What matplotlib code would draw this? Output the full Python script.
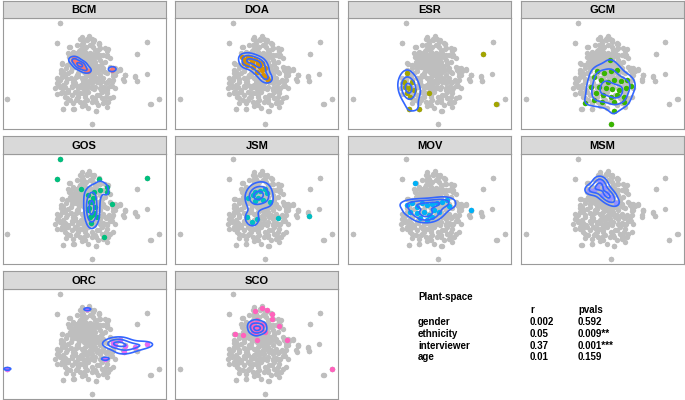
import numpy as np
import matplotlib
matplotlib.use("Agg")
import matplotlib.pyplot as plt

# ordination scores (x100) of all plants
bg_x = [-75, -85, 186, 157, -233, 223, 198, 22, 33, -65, -35, 150, 155, 120, 105, 95, 70, 67,
        -70, -65, -90, -85, -15, 13, 7, 20, 41, -25, -5, 3, 25, 45, -45, -50, -35, -15, 0, 15,
        35, 55, -40, -20, 5, 25, 45, 60, 75, -55, -10, 20, 35, 55, 75, 90, -50, 5, 25, 45, 65,
        85, -75, -55, -35, -10, 15, 40, 65, 85, 115, -80, -60, -40, -20, 5, 30, 55, 75, 90, -85,
        -60, -40, -15, 10, 35, 65, 85, -45, -15, 5, 30, 55, 70, -10, 10, 65, -5, 10, 30, -15, 0,
        15, 35, -25, -5, 20, 45, -30, 55, -25, -30, 50, -60, 0, 20, -25, 60,
        -30, -5, 15, 30, -20, 0, 40, -45, 10, -40, 30, 50, 60, -20, 0, 30, -65, -50, -30, -5,
        20, 45, 65, -70, -20, 0, 25, 50, -35, 40, -55, 80, 75, -70, -85, 0, 25, -10]
bg_y = [145, 85, 88, 53, -81, -81, -98, -157, -118, -113, -112, -17, -27, -10, 8, 2, 67, 50,
        25, 0, -50, -35, 97, 107, 95, 97, 87, 80, 85, 75, 75, 70, 73, 55, 60, 65, 60, 57,
        55, 50, 40, 43, 45, 37, 35, 30, 40, 20, 25, 20, 15, 10, 15, 10, -5, 0, -5, -10, -3,
        -13, -25, -23, -30, -20, -25, -23, -30, -25, -23, -40, -47, -43, -50, -40, -45, -47, -43, -50, -67,
        -63, -70, -65, -60, -70, -65, -75, -85, -90, -85, -83, -95, -90, -103, -110, -105, 50, 30, 50, 10, 15,
        5, 0, -10, -35, -35, -35, 15, -20, 30, -60, -60, -10, -60, -90, -80, 70,
        55, 70, 80, 65, 20, 35, 45, 30, 10, 10, 30, 25, 0, -5, -15, -15, -40, -60, -40, -50,
        -50, -50, -55, -60, -75, -75, -80, -80, -95, -100, -80, -30, -80, -15, -20, -100, 90, 105]

groups = ["BCM", "DOA", "ESR", "GCM", "GOS", "JSM", "MOV", "MSM", "ORC", "SCO"]
colors = ["#F8766D", "#D89000", "#A3A500", "#39B600", "#00BF7D",
          "#00BFC4", "#00B0F6", "#9590FF", "#E76BF3", "#FF62BC"]

bcm_x = [-33, -36, -28, -22, -15, -10, -5, 2, 8, -18, 80, 83]
bcm_y = [40, 35, 30, 25, 20, 22, 12, 5, 2, 15, 5, 10]
doa_x = [-48, -38, -23, -8, 2, 12, -33, -13, 7, 22, -3, 17, 32, 2, 12, 22, 27, -18, -28, -40]
doa_y = [45, 35, 40, 37, 30, 25, 20, 15, 15, 10, 0, -10, -25, 27, 5, -15, -20, 30, 45, 25]
esr_x = [-71, -81, -76, -66, -71, -61, -56, -51, -6, -66, -34, 157, 196]
esr_y = [-3, -30, -45, -50, -65, -75, -30, -55, -65, -113, -112, 53, -98]
gcm_x = [19, 2, -18, 22, 42, -28, -6, 14, 32, 52, 72, -38, -13, 7, 27, 47, 67, 82,
         -23, 0, 22, 42, 62, -56, -28, -3, 32, 62, 32, 22]
gcm_y = [35, -3, 3, 3, 5, -17, -25, -30, -25, -27, -25, -47, -47, -50, -53, -55, -50, -43,
         -65, -70, -75, -70, -75, -93, -85, -90, -90, -90, -118, -157]
gos_x = [-75, -85, 43, 186, -13, 65, 67, 10, 25, 15, 30, 10, 20, 35, 80, 17, 57, 27, 45, 20, 13, 27, 15]
gos_y = [145, 85, 84, 88, 53, 61, 46, 36, 26, 16, 1, -9, -24, -31, 9, -47, -91, 46, 51, 16, -4, -19, -29]
jsm_x = [-8, 7, 22, 27, -28, -13, 2, -8, 17, 37, -33, -18, -1, 62, 155]
jsm_y = [46, 49, 53, 41, 26, 36, 26, 19, 21, 16, -29, -44, -37, -34, -27]
mov_x = [-48, 120, -71, -56, -41, -26, -11, 4, 19, 34, 49, 54, -61, -41, -21, -6, 9, 24, -31, -11, 4]
mov_y = [73, -10, 6, 11, 1, 13, 6, 9, 11, 16, 21, 3, -14, -19, -14, -24, -9, -14, -34, -39, -29]
msm_x = [-13, -6, -18, 2, -28, 12, -3, 22, 17, 37, -43]
msm_y = [81, 71, 61, 56, 51, 41, 36, 31, 21, 11, 51]
orc_x = [7, -233, 85, 90, 105, 120, 117, 150, 185, 60]
orc_y = [98, -81, -4, -9, 6, -11, -29, -14, -7, -51]
sco_x = [-8, 12, 27, 42, 42, 65, -68, -43, -3, 89, 222, -18, -3, 12, -8, 7, 22, -13,
         -10, 5, 0, -15, 10, -5, 15, -20]
sco_y = [94, 101, 96, 84, 69, 48, 23, 21, 6, 6, -82, 56, 66, 53, 41, 36, 31, 31,
         50, 45, 35, 40, 40, 28, 50, 48]

table_rows = ["gender", "ethnicity", "interviewer", "age"]
table_r = ["0.002", "0.05", "0.37", "0.01"]
table_p = ["0.592", "0.009**", "0.001***", "0.159"]

group_pts = {
    "BCM": (bcm_x, bcm_y), "DOA": (doa_x, doa_y), "ESR": (esr_x, esr_y),
    "GCM": (gcm_x, gcm_y), "GOS": (gos_x, gos_y), "JSM": (jsm_x, jsm_y),
    "MOV": (mov_x, mov_y), "MSM": (msm_x, msm_y), "ORC": (orc_x, orc_y),
    "SCO": (sco_x, sco_y),
}

all_x = np.array(bg_x + sum([list(v[0]) for v in group_pts.values()], []), float)
all_y = np.array(bg_y + sum([list(v[1]) for v in group_pts.values()], []), float)

XLIM = (-247, 242)
YLIM = (-172, 160)


def bw_nrd(v):
    # MASS::bandwidth.nrd / 4, like kde2d uses
    v = np.asarray(v, float)
    q25, q75 = np.percentile(v, [25, 75])
    s = np.std(v, ddof=1)
    h = (q75 - q25) / 1.34
    if h <= 0:
        h = s
    return 1.06 * min(s, h) * len(v) ** -0.2


def kde2d(x, y, gx, gy):
    x = np.asarray(x, float)
    y = np.asarray(y, float)
    hx, hy = bw_nrd(x), bw_nrd(y)
    X, Y = np.meshgrid(gx, gy)
    z = np.zeros_like(X)
    for xi, yi in zip(x, y):
        z += np.exp(-0.5 * (((X - xi) / hx) ** 2 + ((Y - yi) / hy) ** 2))
    return X, Y, z / (len(x) * 2 * np.pi * hx * hy)


W, H = 685.0, 400.0
fig = plt.figure(figsize=(W / 100, H / 100), dpi=100)
fig.patch.set_facecolor("white")

col_left = [2.7, 175.3, 348.3, 521.0]
row_top = [18.3, 153.5, 288.5]
pw, ph, sh = 163.0, 110.7, 17.5

gx = np.linspace(XLIM[0], XLIM[1], 240)
gy = np.linspace(YLIM[0], YLIM[1], 240)

for i, g in enumerate(groups):
    r, c = divmod(i, 4)
    left = col_left[c] / W
    bottom = 1 - (row_top[r] + ph) / H
    ax = fig.add_axes([left, bottom, pw / W, ph / H])
    ax.scatter(all_x, all_y, s=15, color="#BEBEBE", linewidths=0, zorder=1)
    px, py = group_pts[g]
    ax.scatter(px, py, s=15, color=colors[i], linewidths=0, zorder=2)
    X, Y, z = kde2d(px, py, gx, gy)
    zmax = z.max()
    ax.contour(X, Y, z, levels=[0.3 * zmax, 0.6 * zmax, 0.9 * zmax],
               colors="#3366FF", linewidths=1.2, zorder=3)
    ax.set_xlim(XLIM)
    ax.set_ylim(YLIM)
    ax.set_xticks([])
    ax.set_yticks([])
    for sp in ax.spines.values():
        sp.set_color("#9A9A9A")
        sp.set_linewidth(0.8)

    # facet strip
    sax = fig.add_axes([left, 1 - row_top[r] / H, pw / W, sh / H])
    sax.set_facecolor("#D9D9D9")
    sax.set_xticks([])
    sax.set_yticks([])
    for sp in sax.spines.values():
        sp.set_color("#9A9A9A")
        sp.set_linewidth(0.8)
    sax.text(0.5, 0.45, g, ha="center", va="center", fontsize=8,
             fontweight="bold", family="Liberation Sans", transform=sax.transAxes)

# statistics table in the empty corner
tkw = dict(fontsize=7, fontweight="bold", family="Liberation Sans", va="center")
x0, x1, x2 = 418 / W, 530 / W, 578 / W
fig.text(x0, 1 - 297 / H, "Plant-space", **tkw)
fig.text(x1, 1 - 310 / H, "r", **tkw)
fig.text(x2, 1 - 310 / H, "pvals", **tkw)
for k, name in enumerate(table_rows):
    yy = 1 - (322 + 11.8 * k) / H
    fig.text(x0, yy, name, **tkw)
    fig.text(x1, yy, table_r[k], **tkw)
    fig.text(x2, yy, table_p[k], **tkw)

fig.savefig("out.png", dpi=100)
plt.close(fig)
